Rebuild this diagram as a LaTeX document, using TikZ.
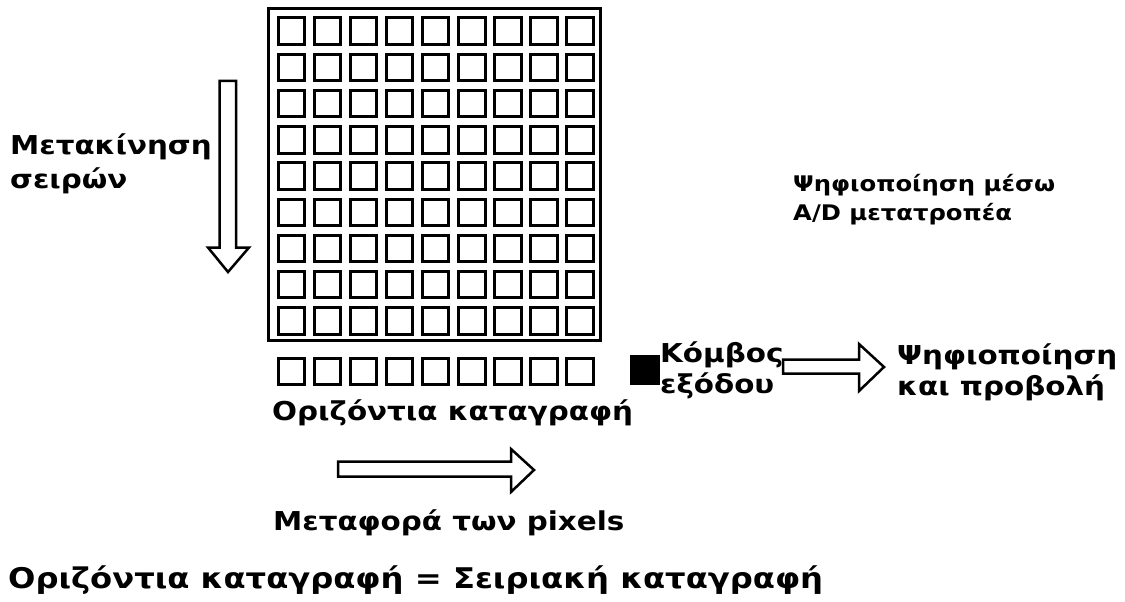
\documentclass[tikz,border=0pt]{standalone}
\usepackage{fontspec}
\newfontfamily\labfont{DejaVu Sans Bold}[FakeStretch=1.13]
\begin{document}
\begin{tikzpicture}[x=1pt,y=-1pt,
  lbl/.style={font=\labfont\fontsize{26}{30}\selectfont, anchor=base west, inner sep=0pt},
  smalllbl/.style={font=\labfont\fontsize{21.5}{26}\selectfont, anchor=base west, inner sep=0pt},
  biglbl/.style={font=\labfont\fontsize{28.5}{32}\selectfont, anchor=base west, inner sep=0pt},
  cell/.style={draw=black, line width=3pt, minimum width=26.5pt, minimum height=26.5pt, inner sep=0pt, anchor=north west},
  blockarrow/.style={draw=black, line width=2.5pt, fill=white, line join=miter}]
\useasboundingbox[fill=white] (0,0) rectangle (1125,602);
% outer frame of the sensor array
\draw[line width=3pt] (268.5,8.5) rectangle (600.5,340.5);
\foreach \i in {0,...,8}{
  \foreach \j in {0,...,8}{
    \node[cell] (c-\i-\j) at ({276.5+36.1*\i},{16.5+36.2*\j}) {};
  }
  \node[cell] (h-\i) at ({276.5+36.1*\i},356.5) {};
}
\node[fill=black, minimum width=30pt, minimum height=30pt, inner sep=0pt, anchor=north west] (out) at (630,355) {};
% labels
\node[lbl] (mv1) at (10,154) {Μετακίνηση};
\node[lbl] (mv2) at (10,188) {σειρών};
\node[smalllbl] (ad1) at (793,191) {Ψηφιοποίηση μέσω};
\node[smalllbl] (ad2) at (793,220) {A/D μετατροπέα};
\node[lbl] (kn1) at (660,362) {Κόμβος};
\node[lbl] (kn2) at (660,393) {εξόδου};
\node[lbl] (ds1) at (897,364) {Ψηφιοποίηση};
\node[lbl] (ds2) at (897,395) {και προβολή};
\node[lbl] (hr) at (272,420) {Οριζόντια καταγραφή};
\node[lbl] (tr) at (273,530) {Μεταφορά των pixels};
\node[biglbl] (eq) at (8,588) {Οριζόντια καταγραφή = Σειριακή καταγραφή};
% block arrows
\draw[blockarrow] (219.5,81) -- (236,81) -- (236,247.5) -- (249,247.5) -- (228,272) -- (208,247.5) -- (219.5,247.5) -- cycle;
\draw[blockarrow] (338,461.5) -- (511,461.5) -- (511,449) -- (534,470) -- (511,492) -- (511,476.5) -- (338,476.5) -- cycle;
\draw[blockarrow] (783,359.5) -- (859,359.5) -- (859,344) -- (884,367) -- (859,391) -- (859,373.5) -- (783,373.5) -- cycle;
\end{tikzpicture}
\end{document}
